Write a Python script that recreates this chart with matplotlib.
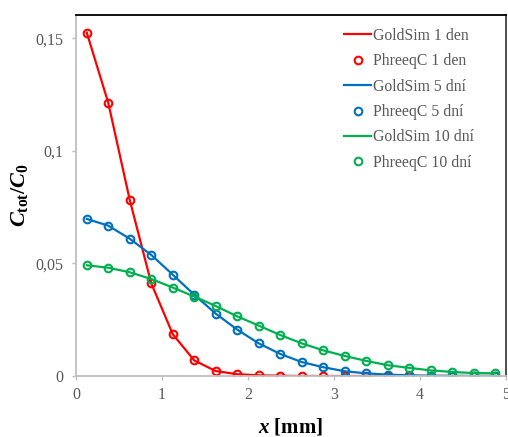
import numpy as np
import matplotlib
matplotlib.use("Agg")
import matplotlib.pyplot as plt
from matplotlib.ticker import FuncFormatter

# --- Data ---
x_mm = [0.125, 0.375, 0.625, 0.875, 1.125, 1.375, 1.625, 1.875, 2.125, 2.375,
        2.625, 2.875, 3.125, 3.375, 3.625, 3.875, 4.125, 4.375, 4.625, 4.875]

c_1den = [0.1526, 0.1214, 0.0782, 0.0412, 0.0186, 0.0069, 0.0022, 0.0008, 0.0003, 0.0001,
          0.0, 0.0, 0.0, 0.0, 0.0, 0.0, 0.0, 0.0, 0.0, 0.0]
c_5dni = [0.0698, 0.0668, 0.0610, 0.0538, 0.0450, 0.0361, 0.0277, 0.0206, 0.0145, 0.0098,
          0.0062, 0.0039, 0.0021, 0.0012, 0.0006, 0.0003, 0.0001, 0.0001, 0.0, 0.0]
c_10dni = [0.0492, 0.0481, 0.0461, 0.0431, 0.0393, 0.0353, 0.0311, 0.0265, 0.0224, 0.0182,
           0.0145, 0.0114, 0.0089, 0.0067, 0.0048, 0.0036, 0.0025, 0.0018, 0.0013, 0.0012]

series = [
    ("1 den", c_1den, "#FF0000"),
    ("5 dní", c_5dni, "#0070C0"),
    ("10 dní", c_10dni, "#00B050"),
]

y_ticks = [0, 0.05, 0.1, 0.15]
x_ticks = [0, 1, 2, 3, 4, 5]

# --- Style ---
plt.rcParams['font.family'] = ['Liberation Serif', 'DejaVu Serif']
plt.rcParams['mathtext.fontset'] = 'custom'
plt.rcParams['mathtext.it'] = 'Liberation Serif:bold:italic'
plt.rcParams['mathtext.rm'] = 'Liberation Serif:bold'
plt.rcParams['mathtext.bf'] = 'Liberation Serif:bold'

grey = '#595959'

fig = plt.figure(figsize=(5.08, 4.37), dpi=100)
ax = fig.add_axes([76 / 508, 61 / 437, 430 / 508, 361 / 437])

for label, vals, col in series:
    ax.plot(x_mm, vals, color=col, linewidth=1.6, label='GoldSim ' + label)
    ax.plot(x_mm, vals, linestyle='none', marker='o', markersize=5.5,
            markerfacecolor='none', markeredgecolor=col, markeredgewidth=1.5,
            label='PhreeqC ' + label)

ax.set_xlim(0, 5)
ax.set_ylim(0, 0.1604)
ax.set_xticks(x_ticks)
ax.set_yticks(y_ticks)

comma = FuncFormatter(lambda v, p: ('%g' % v).replace('.', ','))
ax.xaxis.set_major_formatter(comma)
ax.yaxis.set_major_formatter(comma)
ax.tick_params(labelsize=11.5, labelcolor=grey, color='#BFBFBF', length=3, width=1)
ax.tick_params(axis='x', pad=5)
ax.tick_params(axis='y', pad=6)

ax.spines['left'].set_color('#BFBFBF')
ax.spines['bottom'].set_color('#BFBFBF')
ax.spines['top'].set_color('black')
ax.spines['right'].set_color('#404040')
for s in ax.spines.values():
    s.set_linewidth(1.3)

ax.set_xlabel(r'$x$ [mm]', fontsize=15, fontweight='bold')
ax.xaxis.set_label_coords(0.5, -0.112)
ax.set_ylabel(r'$C_{\mathrm{tot}}/C_{0}$', fontsize=16)
ax.yaxis.set_label_coords(-0.107, 0.5)

leg = ax.legend(loc='upper right', bbox_to_anchor=(0.95, 0.995), frameon=False,
                fontsize=11.3, labelspacing=0.6, handlelength=1.7,
                handletextpad=0.1, borderaxespad=0.3)
for t in leg.get_texts():
    t.set_color(grey)

fig.savefig('out.png', dpi=100)
